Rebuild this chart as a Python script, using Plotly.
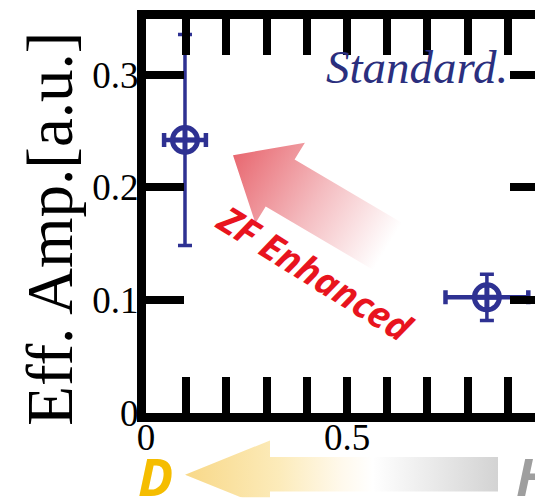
import base64
import math
import plotly.graph_objects as go

# ---------------- data ----------------
x_vals = [0.097, 0.848]
y_vals = [0.242, 0.1025]
x_err = [0.052, 0.103]
y_err = [0.0935, 0.0205]

x_tickvals = [0, 0.5, 1]
x_ticktext = ["0", "0.5", "1"]
y_tickvals = [0, 0.1, 0.2, 0.3]
y_ticktext = ["0", "0.1", "0.2", "0.3"]

# ---------------- geometry (page pixels) ----------------
OFF = 8                      # browser default body margin
PAGE_W, PAGE_H = 543, 499
W, H = PAGE_W - OFF, PAGE_H - OFF
PL, PR, PT, PB = 146, 541, 11, 413     # plot area in page px
L, R, T, B = PL - OFF, PAGE_W - PR, PT - OFF, PAGE_H - PB
PW, PH = PR - PL, PB - PT
X_PER_UNIT = 402.0
Y_PER_UNIT = 1151.0


def fx(px):
    return (px - PL) / PW


def fy(py):
    return (PB - py) / PH


def svg_uri(svg):
    return "data:image/svg+xml;base64," + base64.b64encode(svg.encode()).decode()


NAVY = "#2E3192"
SERIF = "Liberation Serif"
SANS = "Open Sans, Noto Sans, sans-serif"

fig = go.Figure()

fig.add_trace(go.Scatter(
    x=x_vals, y=y_vals,
    mode="markers",
    marker=dict(symbol="circle-cross-open", size=25, color=NAVY,
                line=dict(width=5, color=NAVY)),
    error_x=dict(type="data", array=x_err, color=NAVY, thickness=4.5, width=7),
    error_y=dict(type="data", array=y_err, color=NAVY, thickness=3.5, width=7),
    showlegend=False, hoverinfo="skip",
))
fig.add_trace(go.Scatter(x=[None], y=[None], yaxis="y2", showlegend=False,
                         hoverinfo="skip"))

tickfont = dict(family=SERIF, size=37, color="black")

fig.update_layout(
    width=W, height=H, autosize=False,
    margin=dict(l=L, r=R, t=T, b=B, pad=0),
    paper_bgcolor="white", plot_bgcolor="white",
    xaxis=dict(
        range=[0, PW / X_PER_UNIT],
        showline=True, linewidth=9, linecolor="black", mirror="allticks",
        ticks="inside", ticklen=36, tickwidth=8, tickcolor="black",
        tickvals=x_tickvals, ticktext=x_ticktext, tickfont=tickfont,
        minor=dict(dtick=0.1, tick0=0, ticks="inside", ticklen=27,
                   tickwidth=8, tickcolor="black", showgrid=False),
        showgrid=False, zeroline=False, ticklabelstandoff=-16,
    ),
    yaxis=dict(
        range=[0, PH / Y_PER_UNIT],
        showline=True, linewidth=9, linecolor="black", mirror=False,
        ticks="inside", ticklen=38, tickwidth=8, tickcolor="black",
        tickvals=y_tickvals, ticktext=y_ticktext, tickfont=tickfont,
        showgrid=False, zeroline=False, ticklabelstandoff=-9,
    ),
    yaxis2=dict(
        range=[0, PH / Y_PER_UNIT], overlaying="y", side="right",
        showline=False, ticks="inside", ticklen=31, tickwidth=8,
        tickcolor="black", tickvals=y_tickvals[1:], showticklabels=False,
        showgrid=False, zeroline=False,
    ),
)

# ---------------- ZF enhanced arrow (gradient) ----------------
ang = math.radians(31)
ux, uy = math.cos(ang), math.sin(ang)
nx, ny = -math.sin(ang), math.cos(ang)
tip = (233.0, 150.0)
hl, hw, sw, tl = 55.0, 48.0, 28.0, 190.0
bx, by = tip[0] + hl * ux, tip[1] + hl * uy
ex, ey = tip[0] + tl * ux, tip[1] + tl * uy
pts = [tip,
       (bx - hw * nx, by - hw * ny), (bx - sw * nx, by - sw * ny),
       (ex - sw * nx, ey - sw * ny), (ex + sw * nx, ey + sw * ny),
       (bx + sw * nx, by + sw * ny), (bx + hw * nx, by + hw * ny)]
vx0, vy0, vw, vh = 220, 120, 210, 170
poly = " ".join(f"{p[0]:.1f},{p[1]:.1f}" for p in pts)
svg_zf = (
    f'<svg xmlns="http://www.w3.org/2000/svg" width="{vw}" height="{vh}" '
    f'viewBox="{vx0} {vy0} {vw} {vh}" preserveAspectRatio="none">'
    f'<defs><linearGradient id="g" gradientUnits="userSpaceOnUse" '
    f'x1="{tip[0]}" y1="{tip[1]}" x2="{ex:.1f}" y2="{ey:.1f}">'
    f'<stop offset="0" stop-color="#E86870"/>'
    f'<stop offset="0.5" stop-color="#F4BCC0"/>'
    f'<stop offset="0.95" stop-color="#FFFFFF"/>'
    f'</linearGradient></defs>'
    f'<polygon points="{poly}" fill="url(#g)"/></svg>'
)

# ---------------- D <- H arrow (gradient) ----------------
dx0, dy0, dw, dh = 180, 438, 322, 61
dpts = [(185, 476), (270, 441), (270, 458), (498, 458), (498, 493),
        (270, 493), (270, 511)]
dpoly = " ".join(f"{p[0]},{p[1]}" for p in dpts)
svg_dh = (
    f'<svg xmlns="http://www.w3.org/2000/svg" width="{dw}" height="{dh}" '
    f'viewBox="{dx0} {dy0} {dw} {dh}" preserveAspectRatio="none">'
    f'<defs><linearGradient id="h" gradientUnits="userSpaceOnUse" '
    f'x1="185" y1="0" x2="498" y2="0">'
    f'<stop offset="0" stop-color="#F8D888"/>'
    f'<stop offset="0.3" stop-color="#FCEBBA"/>'
    f'<stop offset="0.5" stop-color="#FFF9EC"/>'
    f'<stop offset="0.6" stop-color="#FFFFFF"/>'
    f'<stop offset="1" stop-color="#D3D3D3"/>'
    f'</linearGradient></defs>'
    f'<polygon points="{dpoly}" fill="url(#h)"/></svg>'
)

fig.update_layout(images=[
    dict(source=svg_uri(svg_zf), xref="paper", yref="paper",
         x=fx(vx0), y=fy(vy0), sizex=vw / PW, sizey=vh / PH,
         xanchor="left", yanchor="top", sizing="stretch", layer="below"),
    dict(source=svg_uri(svg_dh), xref="paper", yref="paper",
         x=fx(dx0), y=fy(dy0), sizex=dw / PW, sizey=dh / PH,
         xanchor="left", yanchor="top", sizing="stretch", layer="below"),
])

# ---------------- text annotations ----------------
fig.add_annotation(text="Eff. Amp.[a.u.]", xref="paper", yref="paper",
                   x=fx(50), y=fy(225), xanchor="center", yanchor="middle",
                   textangle=-90, showarrow=False,
                   font=dict(family=SERIF, size=65, color="black"))
fig.add_annotation(text="Standard.", xref="paper", yref="paper",
                   x=fx(510), y=fy(60), xanchor="right", yanchor="middle",
                   showarrow=False,
                   font=dict(family=SERIF, size=47, color="#2B2F7E",
                             style="italic"))
fig.add_annotation(text="<b><i>ZF Enhanced</i></b>", xref="paper", yref="paper",
                   x=fx(315), y=fy(270), xanchor="center", yanchor="middle",
                   textangle=32, showarrow=False,
                   font=dict(family=SANS, size=37, color="#E8141E"))
fig.add_annotation(text="<b><i>D</i></b>", xref="paper", yref="paper",
                   x=fx(155), y=fy(477), xanchor="center", yanchor="middle",
                   showarrow=False,
                   font=dict(family=SANS, size=52, color="#F5BD00"))
fig.add_annotation(text="<b><i>H</i></b>", xref="paper", yref="paper",
                   x=fx(514), y=fy(477), xanchor="left", yanchor="middle",
                   showarrow=False,
                   font=dict(family=SANS, size=52, color="#9E9E9E"))

fig.write_html("out.html")
